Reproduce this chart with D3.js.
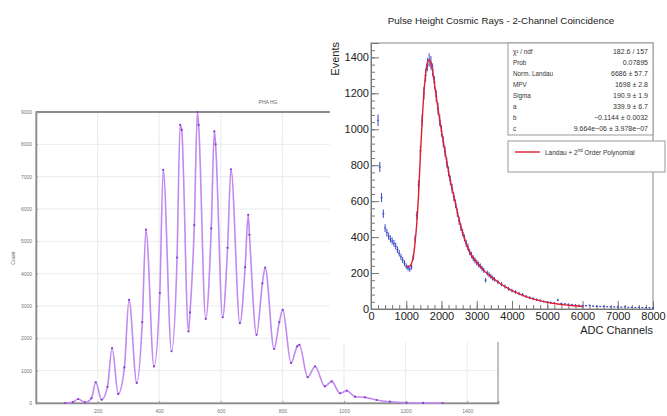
<!DOCTYPE html>
<html><head><meta charset="utf-8">
<script src="https://cdn.jsdelivr.net/npm/d3@7"></script>
<style>body{margin:0;background:#fff}svg{display:block}</style>
</head><body>
<svg id="c" width="667" height="416"></svg>
<script>
// ---------- Left chart: PHA HG ----------
const phaChannels = [95,120,137,159,180,194,213,232,247,267,287,302,327,345,357,383,402,413,440,458,468,473,495,500,514,524,528,551,569,579,583,606,622,633,662,679,689,693,716,735,744,773,790,801,828,848,855,882,906,938,960,987,1009,1036,1068,1106,1149,1203,1257,1320];
const phaCounts   = [0,30,124,20,150,640,100,500,1700,280,1100,3190,620,2500,5360,1130,3400,7210,1600,4500,8600,8450,2215,2800,5500,9000,8600,2600,5400,8400,8000,2650,4800,7230,2470,4200,5820,5200,2110,3700,4190,1670,2500,2880,1240,1750,1800,800,1130,515,670,300,380,195,175,93,40,10,2,0];
const phaXTicks = [200,400,600,800,1000,1200,1400];
const phaYTicks = [0,1000,2000,3000,4000,5000,6000,7000,8000,9000];

// ---------- Right chart: cosmic rays ----------
const adcChannels = [200,250,300,350,400,450,500,550,600,650,700,750,800,850,900,950,1000,1050,1100,1150,1200,1250,1300,1350,1400,1450,1500,1550,1600,1650,1700,1750,1800,1850,1900,1950,2000,2050,2100,2150,2200,2250,2300,2350,2400,2450,2500,2550,2600,2650,2700,2750,2800,2850,2900,2950,3000,3050,3100,3150,3200,3250,3300,3350,3400,3450,3500,3600,3700,3800,3900,4000,4100,4200,4300,4400,4500,4600,4700,4800,4900,5000,5100,5200,5300,5400,5500,5600,5700,5800,5900,6000,6100,6200,6300,6400,6500,6600,6700,6800,6900,7000,7100,7200,7300,7400,7500,7600,7700,7800,7900,8000];
const adcEvents   = [1050,790,620,530,450,425,405,390,378,365,350,330,310,290,272,255,238,228,222,235,290,390,520,690,880,1050,1200,1300,1360,1385,1370,1330,1260,1185,1115,1050,990,930,875,815,765,715,670,625,585,535,490,455,425,395,365,345,318,300,282,270,258,248,238,225,215,160,200,190,182,172,165,150,138,125,112,102,95,86,80,70,63,58,52,48,42,38,36,33,50,30,28,26,24,22,20,19,18,20,16,15,14,14,13,12,12,11,10,12,9,9,8,9,8,7,7,6];
const fitChannels = [1000,1100,1200,1250,1300,1350,1400,1450,1500,1550,1600,1650,1700,1750,1800,1900,2000,2100,2200,2300,2400,2500,2600,2700,2800,2900,3000,3100,3200,3400,3600,3800,4000,4250,4500,4750,5000,5250,5500,5750,6000];
const fitEvents   = [235,240,290,370,480,640,850,1040,1200,1310,1370,1385,1370,1320,1255,1115,990,875,765,670,585,495,425,365,315,285,260,238,215,180,150,125,102,80,62,48,37,29,23,18,14];
const adcXTicks = [0,1000,2000,3000,4000,5000,6000,7000,8000];
const adcYTicks = [0,200,400,600,800,1000,1200,1400];
const statNames  = ["χ² / ndf","Prob","Norm. Landau","MPV","Sigma","a","b","c"];
const statValues = ["182.6 / 157","0.07895","6686 ± 57.7","1698 ± 2.8","190.9 ± 1.9","339.9 ± 6.7","−0.1144 ± 0.0032","9.664e−06 ± 3.978e−07"];

const svg = d3.select("#c");
const F = "'Liberation Sans', Arial, sans-serif";
const fmt = d3.format("d");

// ===== Left chart =====
const lx = d3.scaleLinear().domain([0,1500]).range([36,498]);
const ly = d3.scaleLinear().domain([0,9000]).range([403,112]);
const L = svg.append("g");
L.selectAll(".vg").data(phaXTicks).join("line")
  .attr("x1",d=>lx(d)).attr("x2",d=>lx(d)).attr("y1",112).attr("y2",403)
  .attr("stroke","#e6e6e6").attr("stroke-width",0.8);
L.selectAll(".hg").data(phaYTicks.slice(1)).join("line")
  .attr("x1",36).attr("x2",498).attr("y1",d=>ly(d)).attr("y2",d=>ly(d))
  .attr("stroke","#e6e6e6").attr("stroke-width",0.8);
L.append("rect").attr("x",36).attr("y",112).attr("width",462).attr("height",291)
  .attr("fill","none").attr("stroke","#9a9a9a").attr("stroke-width",1.2);
L.append("line").attr("x1",36).attr("x2",498).attr("y1",112).attr("y2",112).attr("stroke","#8c8c8c").attr("stroke-width",2);
const lxAxis = d3.axisBottom(lx).tickValues(phaXTicks).tickFormat(fmt).tickSize(-2).tickPadding(6);
L.append("g").attr("transform","translate(0,403)").call(lxAxis)
  .call(g=>{g.select(".domain").attr("stroke","#8c8c8c").attr("stroke-width",1.5);
    g.selectAll("line").attr("stroke","#999");
    g.selectAll("text").attr("fill","#777").style("font","5px "+F);});
const lyAxis = d3.axisLeft(ly).tickValues(phaYTicks).tickFormat(fmt).tickSize(-2).tickPadding(4);
L.append("g").attr("transform","translate(36,0)").call(lyAxis)
  .call(g=>{g.select(".domain").attr("stroke","#8c8c8c").attr("stroke-width",1.5);
    g.selectAll("line").attr("stroke","#999");
    g.selectAll("text").attr("fill","#777").style("font","5px "+F);});
L.append("text").attr("x",268).attr("y",104).attr("text-anchor","middle")
  .attr("fill","#666").style("font","5px "+F).text("PHA HG");
L.append("text").attr("transform","translate(15,258) rotate(-90)").attr("text-anchor","middle")
  .attr("fill","#666").style("font","5px "+F).text("Count");
const phaPts = phaChannels.map((c,i)=>[c,phaCounts[i]]);
L.append("path").datum(phaPts)
  .attr("d",d3.line().x(d=>lx(d[0])).y(d=>ly(d[1])).curve(d3.curveMonotoneX))
  .attr("fill","none").attr("stroke","#c28af0").attr("stroke-width",1.6);
L.selectAll(".pm").data(phaPts).join("circle")
  .attr("cx",d=>lx(d[0])).attr("cy",d=>ly(d[1])).attr("r",1.1).attr("fill","#8a3cd2");

// ===== Right chart overlay =====
svg.append("rect").attr("x",330).attr("y",0).attr("width",337).attr("height",342).attr("fill","#fff");
const rx = d3.scaleLinear().domain([0,8000]).range([371,653]);
const ry = d3.scaleLinear().domain([0,1480]).range([309,43]);
const R = svg.append("g");
R.append("text").attr("x",501).attr("y",24).attr("text-anchor","middle")
  .attr("fill","#222").style("font","9.8px "+F).text("Pulse Height Cosmic Rays - 2-Channel Coincidence");
R.append("rect").attr("x",371).attr("y",43).attr("width",282).attr("height",266)
  .attr("fill","none").attr("stroke","#999").attr("stroke-width",1.2);
// x axis
const rxAxis = d3.axisBottom(rx).tickValues(adcXTicks).tickFormat(fmt).tickSize(-8).tickPadding(3);
R.append("g").attr("transform","translate(0,309)").call(rxAxis)
  .call(g=>{g.select(".domain").attr("stroke","#777");
    g.selectAll("line").attr("stroke","#777");
    g.selectAll("text").attr("fill","#222").style("font","11px "+F);});
R.append("g").attr("transform","translate(0,309)")
  .call(d3.axisBottom(rx).tickValues(d3.range(0,8001,200)).tickSize(-4).tickFormat(""))
  .call(g=>{g.select(".domain").remove();g.selectAll("line").attr("stroke","#777");});
// y axis
const ryAxis = d3.axisLeft(ry).tickValues(adcYTicks).tickFormat(fmt).tickSize(-8).tickPadding(2);
R.append("g").attr("transform","translate(371,0)").call(ryAxis)
  .call(g=>{g.select(".domain").attr("stroke","#777");
    g.selectAll("line").attr("stroke","#777");
    g.selectAll("text").attr("fill","#222").style("font","11px "+F);});
R.append("g").attr("transform","translate(371,0)")
  .call(d3.axisLeft(ry).tickValues(d3.range(0,1480,40)).tickSize(-4).tickFormat(""))
  .call(g=>{g.select(".domain").remove();g.selectAll("line").attr("stroke","#777");});
R.append("text").attr("x",653).attr("y",334).attr("text-anchor","end")
  .attr("fill","#222").style("font","11px "+F).text("ADC Channels");
R.append("text").attr("transform","translate(339,42) rotate(-90)").attr("text-anchor","end")
  .attr("fill","#222").style("font","11px "+F).text("Events");
// data with error bars
const adcPts = adcChannels.map((c,i)=>[c,adcEvents[i]]);
const eb = R.append("g").attr("stroke","#3a46c8").attr("stroke-width",1);
eb.selectAll("line.v").data(adcPts).join("line")
  .attr("x1",d=>rx(d[0])).attr("x2",d=>rx(d[0]))
  .attr("y1",d=>ry(d[1]+Math.sqrt(d[1]))).attr("y2",d=>ry(Math.max(0,d[1]-Math.sqrt(d[1]))));
eb.selectAll("line.h").data(adcPts).join("line")
  .attr("x1",d=>rx(d[0])-1).attr("x2",d=>rx(d[0])+1)
  .attr("y1",d=>ry(d[1])).attr("y2",d=>ry(d[1]));
const fitPts = fitChannels.map((c,i)=>[c,fitEvents[i]]);
R.append("path").datum(fitPts)
  .attr("d",d3.line().x(d=>rx(d[0])).y(d=>ry(d[1])).curve(d3.curveMonotoneX))
  .attr("fill","none").attr("stroke","#e0202a").attr("stroke-width",1.4);
// stats box
R.append("rect").attr("x",508).attr("y",43).attr("width",145).attr("height",92)
  .attr("fill","#fff").attr("stroke","#999").attr("stroke-width",1);
statNames.forEach((n,i)=>{
  R.append("text").attr("x",513).attr("y",54+i*11).attr("fill","#333").style("font","6.3px "+F).text(n);
  R.append("text").attr("x",648).attr("y",54+i*11).attr("text-anchor","end").attr("fill","#333").style("font","7px "+F).text(statValues[i]);
});
// legend box
R.append("rect").attr("x",508).attr("y",141).attr("width",157).attr("height",31)
  .attr("fill","#fff").attr("stroke","#999").attr("stroke-width",1);
R.append("line").attr("x1",515).attr("x2",540).attr("y1",152).attr("y2",152).attr("stroke","#e0202a").attr("stroke-width",1.4);
const lt = R.append("text").attr("x",545).attr("y",154.5).attr("fill","#333").style("font","6.5px "+F);
lt.append("tspan").text("Landau + 2");
lt.append("tspan").attr("dy",-2.5).style("font-size","4.5px").text("nd");
lt.append("tspan").attr("dy",2.5).text(" Order Polynomial");
</script>
</body></html>
